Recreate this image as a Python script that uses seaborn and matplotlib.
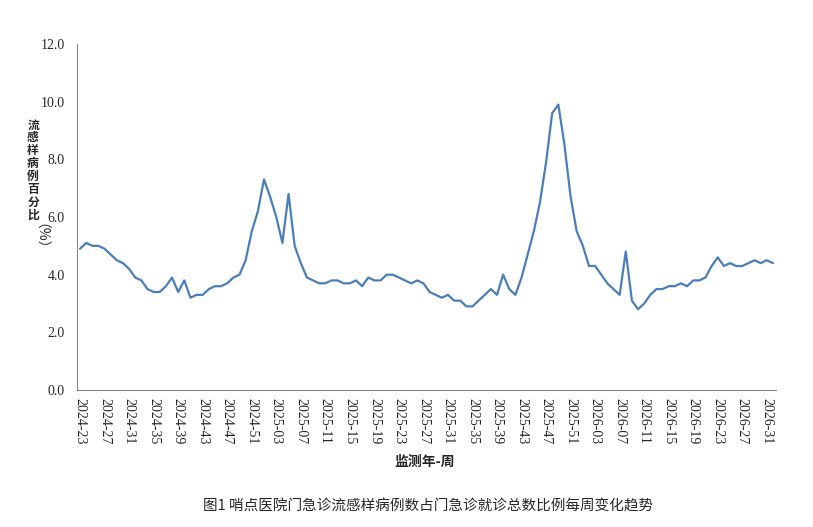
import numpy as np
import pandas as pd
import seaborn as sns
import matplotlib
matplotlib.use("Agg")
import matplotlib.pyplot as plt

# weekly ILI share (%)
vals_2024 = [4.9, 5.1, 5.0, 5.0, 4.9, 4.7, 4.5, 4.4, 4.2, 3.9,
             3.8, 3.5, 3.4, 3.4, 3.6, 3.9, 3.4, 3.8, 3.2, 3.3,
             3.3, 3.5, 3.6, 3.6, 3.7, 3.9, 4.0, 4.5, 5.5, 6.2]          # weeks 23-52
vals_2025 = [7.3, 6.7, 6.0, 5.1, 6.8, 5.0, 4.4, 3.9, 3.8, 3.7,
             3.7, 3.8, 3.8, 3.7, 3.7, 3.8, 3.6, 3.9, 3.8, 3.8,
             4.0, 4.0, 3.9, 3.8, 3.7, 3.8, 3.7, 3.4, 3.3, 3.2,
             3.3, 3.1, 3.1, 2.9, 2.9, 3.1, 3.3, 3.5, 3.3, 4.0,
             3.5, 3.3, 3.9, 4.7, 5.5, 6.5, 7.9, 9.6, 9.9, 8.5,
             6.7, 5.5]                                                  # weeks 1-52
vals_2026 = [5.0, 4.3, 4.3, 4.0, 3.7, 3.5, 3.3, 4.8, 3.1, 2.8,
             3.0, 3.3, 3.5, 3.5, 3.6, 3.6, 3.7, 3.6, 3.8, 3.8,
             3.9, 4.3, 4.6, 4.3, 4.4, 4.3, 4.3, 4.4, 4.5, 4.4,
             4.5, 4.4]                                                  # weeks 1-32

weeks = ([f"2024-{w:02d}" for w in range(23, 53)] +
         [f"2025-{w:02d}" for w in range(1, 53)] +
         [f"2026-{w:02d}" for w in range(1, 33)])
values = vals_2024 + vals_2025 + vals_2026

df = pd.DataFrame({'week': weeks, 'pct': values})
df['idx'] = np.arange(len(df))

sns.set_style("white")
plt.rcParams['font.family'] = ['Liberation Serif', 'Noto Sans CJK SC']

fig = plt.figure(figsize=(8.13, 5.27), dpi=100)
ax = fig.add_axes([77/813, 1-390/527, 699/813, 346/527])

sns.lineplot(data=df, x='idx', y='pct', ax=ax, color='#4a7ebb', linewidth=1.6)

n = len(df)
ax.set_xlim(-0.5, n - 0.5)
ax.set_ylim(0, 12)
ax.set_yticks(np.arange(0, 12.1, 2))
ax.set_yticklabels([f"{v:.1f}" for v in np.arange(0, 12.1, 2)], fontsize=10)

ax.set_xticks(df['idx'][::4])
ax.set_xticklabels(df['week'][::4], rotation=-90, fontsize=10)
ax.set_xticks(np.arange(-0.5, n, 1), minor=True)
ax.tick_params(axis='x', which='major', length=0, pad=6)
ax.tick_params(axis='x', which='minor', length=5, width=0.8, color='#868686', direction='out')
ax.tick_params(axis='y', length=5, width=0.8, color='#868686', direction='out', pad=4)

for s in ['top', 'right']:
    ax.spines[s].set_visible(False)
for s in ['left', 'bottom']:
    ax.spines[s].set_color('#868686')
    ax.spines[s].set_linewidth(0.8)

ax.set_xlabel('')
ax.set_ylabel('')

# vertical stacked y label
fig.text(33/813, 1-170/527, '\n'.join('流感样病例百分比'), ha='center', va='center',
         fontsize=8.5, linespacing=0.98, fontweight='bold', family=['Noto Sans CJK SC'])
fig.text(33/813, 1-243/527, '（%）', ha='center', va='center', rotation=-90,
         fontsize=10, family=['Noto Sans CJK SC'])

fig.text(425/813, 1-462/527, '监测年-周', ha='center', va='center', fontsize=10,
         fontweight='bold', family=['Noto Sans CJK SC'])
fig.text(428/813, 1-506/527, '图1 哨点医院门急诊流感样病例数占门急诊就诊总数比例每周变化趋势',
         ha='center', va='center', fontsize=10.5, family=['Noto Sans CJK SC'])

fig.savefig('out.png', dpi=100)
